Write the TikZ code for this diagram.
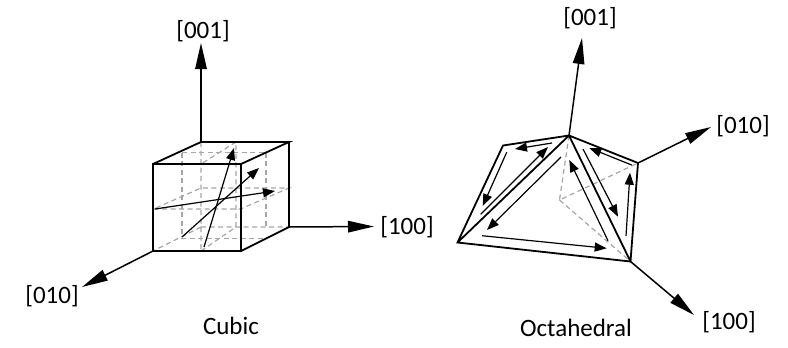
\documentclass[tikz,border=0pt]{standalone}
\usepackage{fontspec}
\setmainfont{Carlito}
\usetikzlibrary{arrows.meta}
\tikzset{
  edge/.style={line width=1.8bp,line join=miter},
  hid/.style={line width=1.2bp,draw=black!35,dash pattern=on 5bp off 3.5bp},
  axis/.style={line width=1.5bp,-{Triangle[length=26bp,width=11.5bp]}},
  arr/.style={line width=1.2bp,-{Triangle[length=12bp,width=9bp]}},
  lab/.style={font=\fontsize{25bp}{27bp}\selectfont,text=black,inner sep=0pt}
}
\begin{document}
\begin{tikzpicture}[x=1bp,y=-1bp]
\useasboundingbox (0,0) rectangle (788,347);
% cube corners
\coordinate (ftl) at (153,164); \coordinate (ftr) at (241,164);
\coordinate (fbl) at (153,251); \coordinate (fbr) at (241,251);
\coordinate (btl) at (201,142); \coordinate (btr) at (289,142);
\coordinate (bbl) at (201,227); \coordinate (bbr) at (289,227);
\coordinate (cz) at (201,43); \coordinate (cx) at (374,226.5); \coordinate (cy) at (82,287);
% hidden lines
\draw[hid] (btl) -- (201,251) (bbl) -- (bbr) (bbl) -- (fbl);
\draw[hid] (182,152.5) -- (266,152.5) (182,152.5) -- (182,238.5) -- (266,238.5) (266,152.5) -- (266,227);
\draw[hid] (236,142) -- (201,164) (201,251) -- (236,227) -- (236,142);
\draw[hid] (153.5,209) -- (240.5,209) -- (289,188) -- (201,188) -- cycle;
% cube solid
\draw[edge] (ftl) rectangle (fbr);
\draw[edge] (ftl) -- (btl) -- (btr) -- (ftr) (btr) -- (bbr) -- (fbr);
% cube arrows
\draw[arr] (204,247) -- (234,148);
\draw[arr] (182,237) -- (259,168);
\draw[arr] (155,209) -- (275,191);
% axes
\draw[axis] (btl) -- (cz);
\draw[axis] (bbr) -- (cx);
\draw[axis] (fbl) -- (cy);
\node[lab] (l1) at (203,31) {[001]};
\node[lab] (l2) at (407,227) {[100]};
\node[lab] (l3) at (52,296) {[010]};
\node[lab] (l4) at (231,326) {Cubic};
% octahedron
\coordinate (ap) at (569,135.5); \coordinate (bl) at (503,145.5); \coordinate (lf) at (457.5,242.5);
\coordinate (bt) at (630.5,261.5); \coordinate (rt) at (638,163); \coordinate (hd) at (559.5,200);
\coordinate (oz) at (582,38); \coordinate (oy) at (711,127); \coordinate (ox) at (694,315);
\draw[hid] (ap) -- (hd) -- (rt) (hd) -- (bt);
\draw[edge] (ap) -- (bl) -- (lf) -- (bt) -- (rt) -- (ap) (ap) -- (lf) (ap) -- (bt);
\draw[arr] (506.7,152.3) -- (482.7,206);
\draw[arr] (480.7,214.3) -- (548,147);
\draw[arr] (552,143) -- (515,149);
\draw[arr] (561,157) -- (487,230);
\draw[arr] (482,235.7) -- (606.7,248.3);
\draw[arr] (608,240.7) -- (569.3,160);
\draw[arr] (583,149) -- (618,216.7);
\draw[arr] (631.7,165) -- (589.3,148);
\draw[arr] (626,236) -- (630,172.7);
\draw[axis] (ap) -- (oz);
\draw[axis] (rt) -- (oy);
\draw[axis] (bt) -- (ox);
\node[lab] (l5) at (590,18) {[001]};
\node[lab] (l6) at (743,126) {[010]};
\node[lab] (l7) at (729,322) {[100]};
\node[lab] (l8) at (576,328) {Octahedral};
\end{tikzpicture}
\end{document}
